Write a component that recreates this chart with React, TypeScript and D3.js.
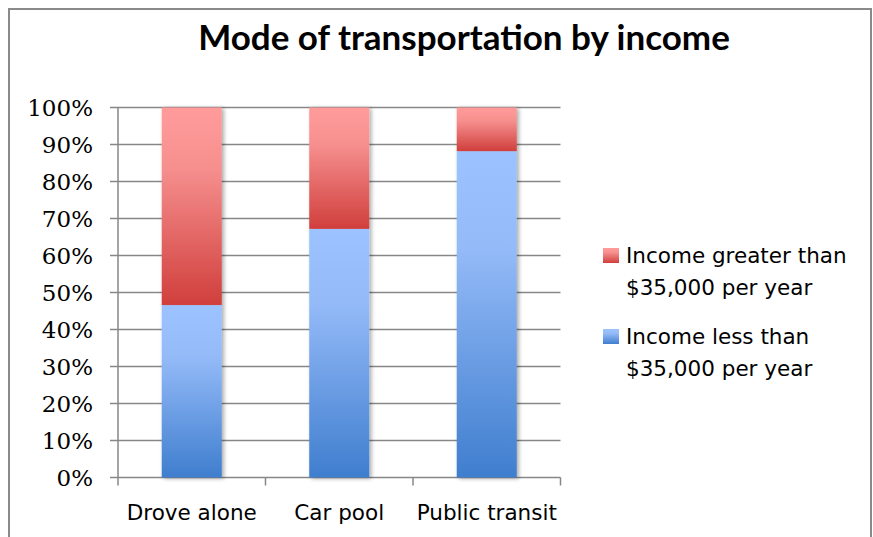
import React from "react";
import * as d3 from "d3";

const categories = ["Drove alone", "Car pool", "Public transit"];
const lessThan35k = [46.6, 67.2, 88.2];
const greaterThan35k = [53.4, 32.8, 11.8];
const yTicks = [0, 10, 20, 30, 40, 50, 60, 70, 80, 90, 100];
const seriesNames = [
  ["Income greater than", "$35,000 per year"],
  ["Income less than", "$35,000 per year"],
];
const title = "Mode of transportation by income";

const W = 873;
const H = 537;
const plotLeft = 118;
const plotRight = 560.5;
const plotTop = 107.5;
const plotBottom = 477.5;

export default function App() {
  const x = d3.scaleBand<string>().domain(categories).range([plotLeft, plotRight]).paddingInner(0.593).paddingOuter(0.2965);
  const y = d3.scaleLinear().domain([0, 100]).range([plotBottom, plotTop]);
  const bandStep = (plotRight - plotLeft) / categories.length;
  const gridColor = "#878787";

  const stacked = categories.map((c, i) => ({
    cat: c,
    segs: [
      { key: "less", y0: 0, y1: lessThan35k[i] },
      { key: "greater", y0: lessThan35k[i], y1: lessThan35k[i] + greaterThan35k[i] },
    ],
  }));

  return (
    <svg
      width={W}
      height={H}
      style={{ position: "absolute", left: 0, top: 0, background: "#fff" }}
      xmlns="http://www.w3.org/2000/svg"
    >
      <defs>
        <linearGradient id="gRed" x1="0" y1="0" x2="0" y2="1">
          <stop offset="0%" stopColor="#FF9C9B" />
          <stop offset="30%" stopColor="#F6908F" />
          <stop offset="100%" stopColor="#D03F3C" />
        </linearGradient>
        <linearGradient id="gBlue" x1="0" y1="0" x2="0" y2="1">
          <stop offset="0%" stopColor="#9CC2FF" />
          <stop offset="30%" stopColor="#94BAF8" />
          <stop offset="100%" stopColor="#3F7ECE" />
        </linearGradient>
        <filter id="shadow" x="-20%" y="-5%" width="150%" height="115%">
          <feGaussianBlur in="SourceAlpha" stdDeviation="2" />
          <feOffset dx="2" dy="1" result="ob" />
          <feComponentTransfer>
            <feFuncA type="linear" slope="0.35" />
          </feComponentTransfer>
          <feMerge>
            <feMergeNode />
            <feMergeNode in="SourceGraphic" />
          </feMerge>
        </filter>
      </defs>

      <rect x={9} y={9} width={862} height={560} fill="#fff" stroke="#8a8a8a" strokeWidth={2} />

      <text
        x={464}
        y={50}
        textAnchor="middle"
        fontFamily="Lato, 'Open Sans', sans-serif"
        fontWeight={700}
        fontSize={35}
        fill="#000"
      >
        {title}
      </text>

      {/* gridlines + y ticks */}
      {yTicks.map((t) => (
        <g key={t}>
          <line x1={plotLeft - 8} x2={plotRight} y1={y(t)} y2={y(t)} stroke={gridColor} strokeWidth={1.5} />
          <text
            x={93}
            y={y(t)}
            dy="0.36em"
            textAnchor="end"
            fontFamily="'DejaVu Serif', serif"
            fontSize={23}
            fill="#000"
          >
            {t}%
          </text>
        </g>
      ))}

      {/* y axis */}
      <line x1={plotLeft} x2={plotLeft} y1={plotTop} y2={plotBottom + 8} stroke={gridColor} strokeWidth={1.5} />

      {/* x ticks */}
      {categories.map((c, i) => (
        <line
          key={c}
          x1={plotLeft + bandStep * (i + 1)}
          x2={plotLeft + bandStep * (i + 1)}
          y1={plotBottom}
          y2={plotBottom + 8}
          stroke={gridColor}
          strokeWidth={1.5}
        />
      ))}

      {/* bars */}
      <g filter="url(#shadow)">
        {stacked.map((s) =>
          s.segs.map((seg) => (
            <rect
              key={s.cat + seg.key}
              x={x(s.cat)!}
              width={x.bandwidth()}
              y={y(seg.y1)}
              height={y(seg.y0) - y(seg.y1)}
              fill={seg.key === "less" ? "url(#gBlue)" : "url(#gRed)"}
            />
          ))
        )}
      </g>

      {/* x labels */}
      {categories.map((c) => (
        <text
          key={c}
          x={x(c)! + x.bandwidth() / 2}
          y={520}
          textAnchor="middle"
          fontFamily="'DejaVu Sans', sans-serif"
          fontSize={21.5}
          fill="#000"
        >
          {c}
        </text>
      ))}

      {/* legend */}
      {seriesNames.map((lines, i) => {
        const base = 263 + i * 81;
        return (
          <g key={i}>
            <rect x={603} y={base - 15} width={16} height={15} fill={i === 0 ? "url(#gRed)" : "url(#gBlue)"} />
            {lines.map((ln, j) => (
              <text
                key={j}
                x={626}
                y={base + j * 32}
                fontFamily="'DejaVu Sans', sans-serif"
                fontSize={21.5}
                fill="#000"
              >
                {ln}
              </text>
            ))}
          </g>
        );
      })}
    </svg>
  );
}
